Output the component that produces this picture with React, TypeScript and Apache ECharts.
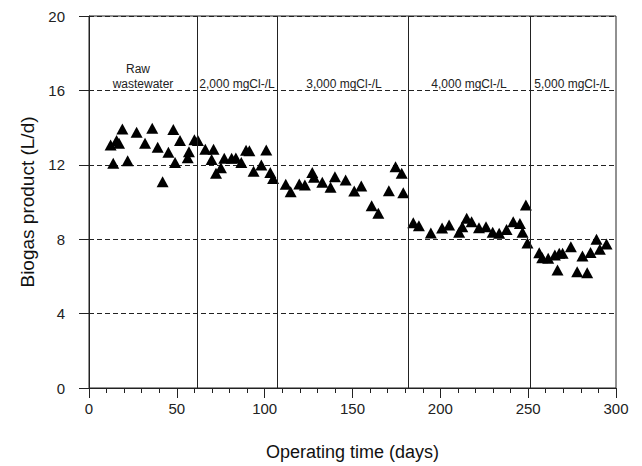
import React, { useEffect, useRef } from "react";
import * as echarts from "echarts";

const FONT = 'Arial, "Liberation Sans", sans-serif';

// [operating day, biogas L/d]
const rawWastewater: [number, number][] = [
  [12.3, 13.06], [13.8, 12.08], [15.7, 13.3], [17.1, 13.16], [19, 13.92], [22, 12.22],
  [27.1, 13.75], [31.9, 13.16], [36, 13.96], [39.1, 12.94], [41.9, 11.09], [45.2, 12.67],
  [48, 13.9], [49, 12.13], [51.8, 13.3], [56.2, 12.38], [56.9, 12.7], [60, 13.35],
];
const cl2000: [number, number][] = [
  [62, 13.3], [66.2, 12.83], [69.8, 12.29], [70.9, 12.83], [72.3, 11.54], [75.1, 11.84],
  [77, 12.35], [81.2, 12.35], [83.6, 12.37], [86.7, 12.12], [89.4, 12.78], [91.3, 12.76],
  [93.7, 11.65], [98.1, 11.99], [100.9, 12.8], [103.2, 11.58], [104.8, 11.27],
];
const cl3000: [number, number][] = [
  [112, 10.95], [114.8, 10.55], [119.7, 10.97], [122.9, 10.91], [127.1, 11.58], [128.1, 11.33],
  [132.8, 11.06], [137.5, 10.79], [140, 11.36], [146.1, 11.18], [151, 10.59], [155, 10.86],
  [160.9, 9.8], [164.7, 9.39], [170.7, 10.61], [174.5, 11.9], [178, 11.54], [178.9, 10.5],
];
const cl4000: [number, number][] = [
  [184.6, 8.89], [187.8, 8.72], [194.6, 8.34], [201, 8.6], [205, 8.76], [210.7, 8.38],
  [212.5, 8.67], [215, 9.12], [217.8, 8.94], [222, 8.62], [226, 8.67], [229.8, 8.37],
  [233.5, 8.32], [237.7, 8.52], [241.5, 8.94], [245.3, 8.84], [246.8, 8.37], [248.7, 9.84],
  [249.6, 7.8],
];
const cl5000: [number, number][] = [
  [256.3, 7.27], [258, 7.0], [261.4, 6.97], [265.2, 7.15], [266.7, 6.34], [267.7, 7.24],
  [269.6, 7.24], [274.3, 7.6], [277.9, 6.25], [280.9, 7.1], [283.6, 6.2], [285.5, 7.29],
  [288.9, 8.0], [290.8, 7.46], [294.6, 7.74],
];

// phase boundaries (days)
const phaseBoundaries = [61.5, 107, 182, 251];
const xTicks = { min: 0, max: 300, interval: 50 };
const yTicks = { min: 0, max: 20, interval: 4 };

export default function App() {
  const ref = useRef<HTMLDivElement>(null);
  useEffect(() => {
    if (!ref.current) return;
    const chart = echarts.init(ref.current, undefined, { renderer: "svg" });
    const all = [...rawWastewater, ...cl2000, ...cl3000, ...cl4000, ...cl5000];
    const labelStyle = { fill: "#222", font: `12px ${FONT}`, textAlign: "center" as const, textVerticalAlign: "middle" as const };
    chart.setOption({
      animation: false,
      backgroundColor: "#fff",
      textStyle: { fontFamily: FONT },
      grid: {
        left: 89, right: 26, top: 16, bottom: 78,
        show: true, borderColor: "#222", borderWidth: 1, backgroundColor: "transparent",
      },
      xAxis: {
        type: "value", ...xTicks,
        name: "Operating time (days)", nameLocation: "middle", nameGap: 55,
        nameTextStyle: { fontSize: 18, color: "#111", fontFamily: FONT },
        axisLine: { show: true, lineStyle: { color: "#222", width: 1 } },
        axisTick: { show: true, length: 10, lineStyle: { color: "#222" } },
        minorTick: { show: true, splitNumber: 5, length: 5, lineStyle: { color: "#222" } },
        axisLabel: { fontSize: 15, color: "#222", margin: 13, fontFamily: FONT },
        splitLine: { show: false },
      },
      yAxis: {
        type: "value", ...yTicks,
        name: "Biogas product (L/d)", nameLocation: "middle", nameGap: 50,
        nameTextStyle: { fontSize: 19, color: "#111", fontFamily: FONT },
        axisLine: { show: true, lineStyle: { color: "#222", width: 1 } },
        axisTick: { show: true, length: 10, lineStyle: { color: "#222" } },
        axisLabel: { fontSize: 15, color: "#222", margin: 24, fontFamily: FONT },
        splitLine: { show: true, lineStyle: { color: "#222", type: [5, 3], width: 1 } },
      },
      series: [
        {
          type: "scatter",
          data: all,
          symbol: "triangle",
          symbolSize: [12, 11],
          itemStyle: { color: "#000", opacity: 1 },
          markLine: {
            silent: true,
            symbol: "none",
            label: { show: false },
            lineStyle: { color: "#222", type: "solid", width: 1, opacity: 1 },
            data: phaseBoundaries.map((x) => ({ xAxis: x })),
          },
        },
      ],
      graphic: [
        { type: "text", x: 138, y: 69, style: { ...labelStyle, text: "Raw" } },
        { type: "text", x: 143, y: 84, style: { ...labelStyle, text: "wastewater" } },
        { type: "text", x: 237, y: 84, style: { ...labelStyle, text: "2,000 mgCl-/L" } },
        { type: "text", x: 344, y: 84, style: { ...labelStyle, text: "3,000 mgCl-/L" } },
        { type: "text", x: 469, y: 84, style: { ...labelStyle, text: "4,000 mgCl-/L" } },
        { type: "text", x: 572, y: 84, style: { ...labelStyle, text: "5,000 mgCl-/L" } },
      ],
    });
    return () => chart.dispose();
  }, []);
  return (
    <div
      ref={ref}
      style={{ position: "fixed", left: 0, top: 0, width: 642, height: 466, background: "#fff" }}
    />
  );
}
